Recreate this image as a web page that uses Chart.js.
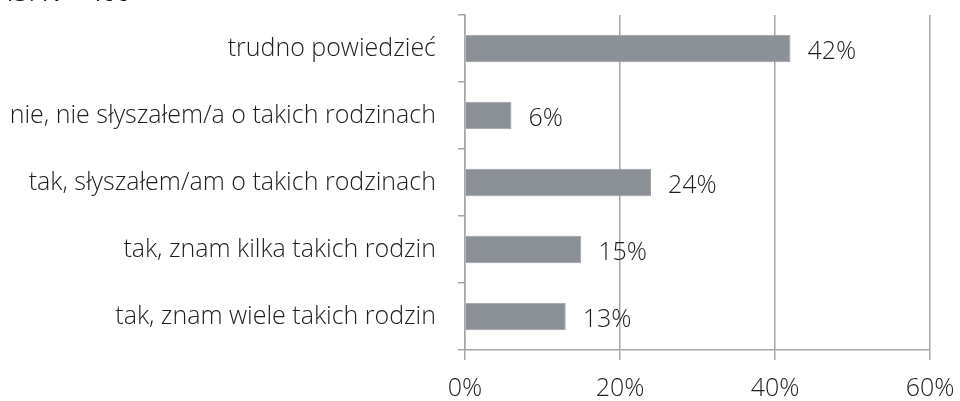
<!DOCTYPE html>
<html>
<head>
<meta charset="utf-8">
<script src="https://cdn.jsdelivr.net/npm/chart.js@4"></script>
<style>
    html, body { margin: 0; padding: 0; background: #fff; }
    #wrap { position: relative; width: 960px; height: 401px; overflow: hidden; }
    #apiChart1 { display: block; }
    #caption { position: absolute; left: 0; top: -26px; font: 25px "Open Sans", sans-serif; color: #111; white-space: nowrap; }
</style>
</head>
<body>
<div id="wrap">
    <canvas id="apiChart1" width="960" height="401"></canvas>
    <div id="caption">43. N = 400</div>
</div>
<script>
// Odpowiedzi i procenty
const kategorie = [
    'trudno powiedzieć',
    'nie, nie słyszałem/a o takich rodzinach',
    'tak, słyszałem/am o takich rodzinach',
    'tak, znam kilka takich rodzin',
    'tak, znam wiele takich rodzin'
];
const procenty = [42, 6, 24, 15, 13];
const ticki_x = [0, 20, 40, 60];

const kolor_slupka = '#8a9096';
const kolor_linii = '#a6a6a6';
const kolor_tekstu = '#1e1e1e';
const czcionka = { family: '"Open Sans", sans-serif', size: 25, weight: '300' };

// Etykiety z wartościami za słupkami
const etykiety_wartosci = {
    id: 'etykietyWartosci',
    afterDatasetsDraw(chart) {
        const ctx = chart.ctx;
        const meta = chart.getDatasetMeta(0);
        ctx.save();
        ctx.font = `${czcionka.weight} ${czcionka.size}px ${czcionka.family}`;
        ctx.fillStyle = kolor_tekstu;
        ctx.textBaseline = 'middle';
        ctx.textAlign = 'left';
        meta.data.forEach((bar, i) => {
            ctx.fillText(procenty[i] + '%', bar.x + 17, bar.y + 3);
        });
        ctx.restore();
    }
};

const ctx_wykres = document.getElementById('apiChart1').getContext('2d');
const wykres = new Chart(ctx_wykres, {
    type: 'bar',
    data: {
        labels: kategorie,
        datasets: [{
            data: procenty,
            backgroundColor: kolor_slupka,
            borderColor: '#9aa0a6',
            borderWidth: 1,
            barPercentage: 0.41,
            categoryPercentage: 1
        }]
    },
    options: {
        indexAxis: 'y',
        responsive: false,
        animation: false,
        layout: { padding: { top: 15, right: 30, left: 0, bottom: 0 } },
        plugins: { legend: { display: false }, tooltip: { enabled: false } },
        scales: {
            x: {
                min: 0,
                max: 60,
                afterBuildTicks: scale => { scale.ticks = ticki_x.map(v => ({ value: v })); },
                afterFit: scale => {
                    scale.height = 51;
                    scale.paddingLeft = 0;
                    scale.paddingRight = 0;
                },
                grid: { color: kolor_linii, lineWidth: 1.5, tickLength: 10 },
                border: { color: kolor_linii, width: 1.5 },
                ticks: {
                    padding: 14,
                    color: kolor_tekstu,
                    font: czcionka,
                    callback: v => v + '%'
                }
            },
            y: {
                afterFit: scale => {
                    scale.width = 465;
                    scale.paddingTop = 0;
                    scale.paddingBottom = 0;
                },
                grid: { offset: true, drawOnChartArea: false, color: kolor_linii, lineWidth: 1.5, tickLength: 7 },
                border: { color: kolor_linii, width: 1.5 },
                ticks: {
                    padding: 22,
                    color: kolor_tekstu,
                    font: czcionka
                }
            }
        }
    },
    plugins: [etykiety_wartosci]
});
</script>
</body>
</html>
